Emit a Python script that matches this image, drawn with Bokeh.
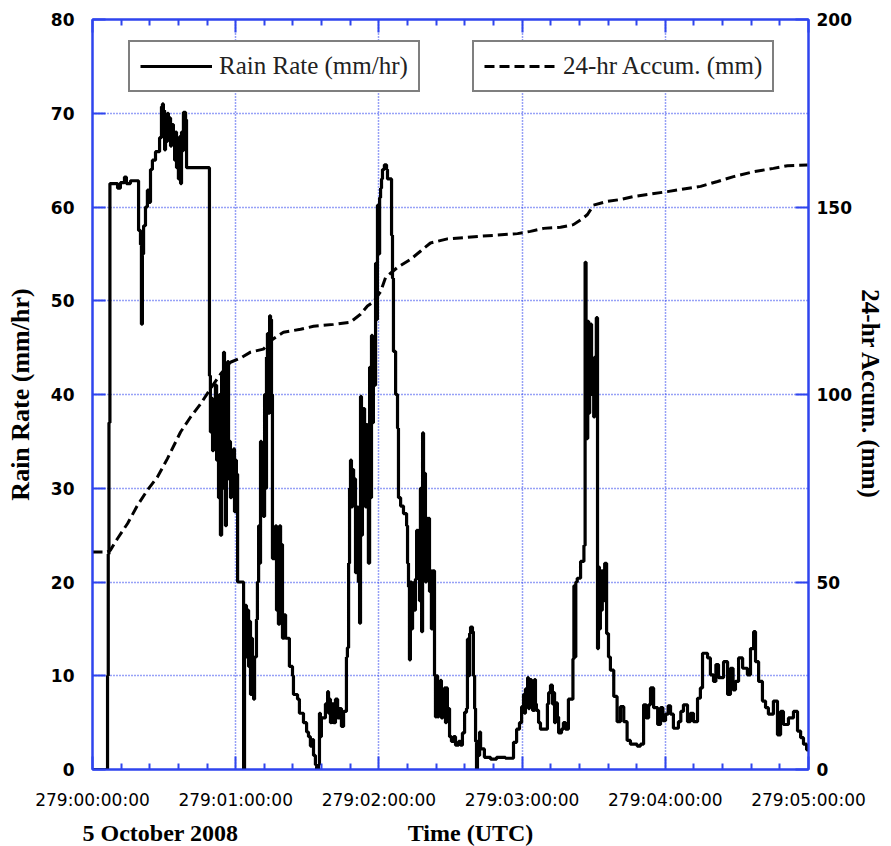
from bokeh.plotting import figure
from bokeh.layouts import column
from bokeh.models import Range1d, LinearAxis, FixedTicker, Legend, LegendItem, Label
from bokeh.embed import file_html
from bokeh.resources import INLINE

# ---- data: (minutes since 279:00:00:00, rain rate mm/hr), step samples ----
rain_hour0 = [(0, 0), (6.3, 10), (6.6, 23), (6.9, 37), (7.3, 62.5), (10.5, 62.0), (11.7, 62.6),
              (13.4, 63.2), (14.2, 62.5), (15.9, 62.8), (19.3, 57.5), (20.1, 56), (20.5, 47.5),
              (20.9, 55), (21.4, 58), (22.2, 60), (23.0, 61.8), (23.5, 60.5), (24.3, 64), (25.1, 65),
              (26.4, 65.9), (28.1, 67.4), (28.9, 70.7), (29.3, 71), (29.7, 70.3), (30.2, 66.1),
              (30.6, 69), (31.0, 67), (31.4, 70), (31.8, 68), (32.3, 69.5), (32.7, 66.5), (33.1, 68.2),
              (33.5, 68.8), (33.9, 67.5), (34.4, 65), (34.8, 68), (35.2, 64.2), (35.6, 67), (36.0, 63),
              (36.5, 67.5), (36.9, 62.5), (37.3, 68), (37.7, 66), (38.1, 70.1), (39.0, 69.3),
              (39.4, 64.2), (49.0, 42), (49.4, 36), (49.9, 39.6), (50.3, 34), (50.7, 38.5), (51.1, 35),
              (51.5, 41), (52.0, 33), (52.4, 37), (52.8, 29), (53.2, 40), (53.6, 25), (54.1, 42),
              (54.5, 30), (54.9, 44.5), (55.3, 33), (55.7, 26), (56.1, 36), (56.6, 43.5), (57.0, 31),
              (57.4, 35), (57.8, 29), (58.2, 34), (58.7, 31.5), (59.1, 34.2), (59.5, 27.5), (59.9, 33)]
rain_hour1 = [(60.3, 31.5), (60.8, 20), (63.3, 0), (63.7, 17.5), (64.5, 12), (64.9, 17), (65.4, 11),
              (65.8, 15.8), (66.2, 8), (66.6, 14), (67.0, 10), (67.5, 7.5), (67.9, 12), (68.7, 16),
              (69.1, 20), (69.6, 26), (70.0, 22), (70.4, 35), (70.8, 28), (71.2, 33), (71.6, 27),
              (72.1, 40), (72.5, 30), (72.9, 44), (73.3, 46.5), (73.7, 38), (74.2, 48.4), (74.6, 48),
              (75.0, 40), (75.4, 22.5), (76.7, 26), (77.1, 17), (77.5, 25), (77.9, 15.5), (78.4, 26),
              (78.8, 20), (79.2, 24), (79.6, 14), (80.4, 16.5), (80.9, 14), (82.5, 11), (83.8, 10),
              (84.2, 8), (85.9, 7.5), (86.7, 6), (88.4, 5), (89.7, 4), (90.5, 3.5), (91.3, 2.5),
              (92.2, 3.2), (92.6, 1.5), (93.4, 0.5), (93.9, 0), (94.7, 0.5), (95.1, 6), (95.5, 3.5),
              (95.9, 5.5), (97.6, 7), (98.5, 8.3), (98.9, 6), (99.3, 7.5), (99.7, 5), (100.1, 7),
              (101.0, 5), (101.8, 7.5), (102.7, 5.5), (103.5, 6.5), (104.3, 4.6), (105.2, 6.2),
              (106.4, 12), (106.8, 13), (107.3, 22), (107.7, 30), (108.1, 33), (108.5, 28), (108.9, 32),
              (109.4, 29), (109.8, 31), (110.2, 21), (110.6, 28), (111.4, 20), (111.9, 15.6),
              (112.3, 39.8), (112.7, 25), (113.1, 35), (113.5, 38.5), (114.0, 30), (114.4, 28),
              (114.8, 36.8), (115.2, 31), (115.6, 22), (116.1, 42.9), (116.5, 29), (116.9, 46.3),
              (117.3, 37), (117.7, 46), (118.2, 41), (118.6, 54), (119.0, 48), (119.4, 60.2), (119.8, 55)]
rain_hour2 = [(120.3, 61), (120.7, 62), (121.1, 63), (121.5, 64), (122.3, 64.5), (123.2, 64),
              (123.6, 63), (125.3, 57), (125.7, 52.4), (126.1, 44.6), (127.0, 40), (127.8, 36.4),
              (128.2, 29), (129.1, 28.1), (130.3, 27.3), (131.6, 26), (132.0, 22), (132.4, 19.5),
              (132.8, 11.7), (133.2, 20), (133.7, 15), (134.1, 19.9), (134.5, 17), (135.3, 20.3),
              (135.8, 25.5), (136.2, 22), (136.6, 25.5), (137.0, 18), (137.4, 30), (137.9, 14.7),
              (138.3, 35.9), (138.7, 24), (139.1, 31.6), (139.5, 20), (139.9, 26.8), (140.4, 22),
              (140.8, 26.8), (141.2, 19), (141.6, 21.2), (142.0, 15), (142.5, 21.2), (143.3, 10),
              (143.7, 5.6), (144.1, 10), (144.6, 5.6), (145.0, 7), (145.8, 9.5), (146.2, 5.5),
              (146.7, 7.8), (147.5, 8.7), (147.9, 5), (148.3, 8.7), (148.7, 6.5), (149.6, 3.5),
              (150.4, 3), (151.3, 3.5), (152.1, 2.6), (153.4, 3), (154.2, 2.6), (155.0, 3.9),
              (155.9, 6.1), (156.7, 6.5), (157.1, 13.9), (157.5, 10), (158.0, 14.5), (158.4, 15.2),
              (159.2, 14.7), (159.6, 10), (160.1, 6.5), (160.5, 3), (160.9, 0), (161.3, 3), (161.7, 1.5),
              (162.2, 4), (162.6, 2.2), (164.2, 1.3), (166.8, 1.1), (169.3, 1.3), (173.0, 1.2),
              (176.4, 2.9), (177.7, 4.3), (178.9, 5), (179.8, 6.7)]
rain_hour3 = [(180.6, 8), (181.0, 6), (181.4, 8.6), (182.3, 9.8), (182.7, 6.5), (183.1, 9.6),
              (183.9, 7), (184.4, 6.3), (185.2, 9.6), (185.6, 7), (186.0, 6.3), (186.9, 5), (187.7, 4.3),
              (190.6, 7), (191.1, 8.2), (191.9, 9), (192.7, 7), (193.2, 8.2), (193.6, 5), (194.0, 7.1),
              (194.8, 5.6), (195.3, 3.9), (196.5, 4.3), (197.3, 5), (198.2, 4.3), (199.4, 7.5),
              (201.3, 11.8), (201.7, 19.6), (202.1, 12), (202.5, 20), (203.1, 20.4), (204.5, 22.2),
              (205.9, 23.9), (206.4, 54.1), (206.8, 45), (207.1, 35.3), (207.5, 47.8), (207.9, 38),
              (208.3, 44), (208.7, 47.5), (209.1, 40), (209.5, 42), (210.0, 37.6), (210.4, 44),
              (210.7, 40), (211.1, 48.2), (211.6, 12.9), (212.0, 21.6), (212.4, 15), (212.8, 21.2),
              (213.2, 17), (213.6, 21.2), (214.2, 18), (214.6, 22), (215.4, 14.5), (216.2, 12),
              (217.0, 10.6), (218.4, 7.8), (219.8, 5.1), (221.2, 6.7), (222.6, 5.1), (224.0, 3.1),
              (225.4, 2.7), (228.2, 2.5), (229.6, 2.7), (230.9, 6.9), (232.0, 5.5), (233.0, 6.9),
              (233.8, 8.7), (235.1, 6.6), (236.8, 4.8), (238.0, 6.6), (239.0, 5.2)]
rain_hour4 = [(240.1, 5.9), (241.2, 6.8), (242.2, 5.9), (243.4, 4.4), (245.5, 5.1), (246.5, 6.2),
              (247.6, 6.9), (249.3, 5.1), (250.5, 6.0), (251.8, 5.1), (253.5, 7.6), (254.7, 8.7),
              (255.6, 12.4), (257.7, 11.9), (258.9, 10.1), (260.2, 9.4), (261.2, 11.2), (262.3, 9.8),
              (264.4, 11.5), (266.1, 8), (267.3, 10.8), (268.4, 8.5), (269.4, 9.4), (270.7, 11.9),
              (272.4, 10.8), (274.4, 10.1), (275.7, 12.9), (277.0, 14.7), (277.8, 11.5), (279.1, 9.4),
              (280.7, 7.3), (282.0, 6.6), (283.2, 5.9), (285.3, 7.3), (287.0, 3.7), (288.3, 6.2),
              (289.5, 4.8), (291.6, 5.5), (293.7, 6.2), (295.4, 4.1), (296.7, 3.4), (297.9, 2.7),
              (299.2, 2.1), (300.0, 2.1)]

# ---- 24-hr accumulation (mm) ----
accum_minutes = [0, 6.3, 7.5, 10.5, 14.7, 18.9, 23.0, 27.2, 31.4, 36.9, 41.1, 45.3, 49.4, 53.6, 57.8,
                 62.0, 66.2, 71.6, 75.4, 80.0, 87.2, 92.6, 101.0, 108.1, 112.3, 115.2, 117.7, 120.7,
                 122.8, 127.8, 133.2, 137.4, 141.6, 148.7, 155.4, 162.6, 169.7, 178.1, 183.5, 189.0,
                 196.1, 201.5, 205.7, 207.4, 209.9, 215.8, 221.2, 226.7, 240.9, 254.8, 261.9, 268.6,
                 277.0, 285.3, 291.2, 299.6]
accum_mm = [58.0, 58.0, 58.5, 61.6, 65.6, 70.5, 74.5, 78, 82.9, 90, 94, 97.5, 101.5, 105.4, 108.6,
            109.7, 111.3, 112.1, 114.7, 116.6, 117.4, 118.2, 118.7, 119.3, 121.4, 123.6, 124.7, 127.4,
            131.2, 133.9, 136, 138.2, 140.4, 141.5, 141.8, 142.2, 142.5, 142.9, 143.5, 144.3,
            144.6, 145.3, 147.1, 148, 150.5, 151.5, 152, 152.8, 154.1, 155.5, 156.8, 158.1,
            159.4, 160.3, 161, 161.2]

x_ticks = [0, 60, 120, 180, 240, 300]
x_tick_labels = ["279:00:00:00", "279:01:00:00", "279:02:00:00", "279:03:00:00",
                 "279:04:00:00", "279:05:00:00"]
x_minor = [12, 24, 36, 48, 72, 84, 96, 108, 132, 144, 156, 168, 192, 204, 216, 228, 252, 264, 276, 288]
rate_ticks = [0, 10, 20, 30, 40, 50, 60, 70, 80]
accum_ticks = [0, 50, 100, 150, 200]
date_text = "5 October 2008"
time_title = "Time (UTC)"

rain = rain_hour0 + rain_hour1 + rain_hour2 + rain_hour3 + rain_hour4
rain_t = [t for t, _ in rain]
rain_v = [v for _, v in rain]

BLUE = "#2f45ee"

p = figure(width=891, height=812, output_backend="svg", toolbar_location=None,
           x_range=Range1d(0, 300), y_range=Range1d(0, 80),
           min_border_left=92, min_border_right=83, min_border_top=19, min_border_bottom=40,
           background_fill_color="white", border_fill_color="white")
p.outline_line_color = BLUE
p.outline_line_width = 2
p.extra_y_ranges = {"acc": Range1d(0, 200)}


def style_axis(ax):
    ax.axis_line_color = BLUE
    ax.axis_line_width = 2
    ax.major_tick_line_color = BLUE
    ax.major_tick_line_width = 2
    ax.minor_tick_line_color = BLUE
    ax.minor_tick_line_width = 2
    ax.major_tick_in = 13
    ax.major_tick_out = 0
    ax.minor_tick_in = 6
    ax.minor_tick_out = 0


xa = p.xaxis[0]
xa.ticker = FixedTicker(ticks=x_ticks, minor_ticks=x_minor)
xa.major_label_overrides = {t: lab for t, lab in zip(x_ticks, x_tick_labels)}
xa.major_label_text_font = "DejaVu Sans"
xa.major_label_text_font_size = "17px"
xa.major_label_text_color = "black"
xa.major_label_standoff = 20
style_axis(xa)

ya = p.yaxis[0]
ya.ticker = FixedTicker(ticks=rate_ticks, minor_ticks=[])
ya.major_label_text_font = "DejaVu Sans"
ya.major_label_text_font_style = "bold"
ya.major_label_text_font_size = "17px"
ya.major_label_text_color = "black"
ya.major_label_standoff = 18
ya.axis_label = "Rain Rate (mm/hr)"
ya.axis_label_text_font = "Liberation Serif"
ya.axis_label_text_font_style = "bold"
ya.axis_label_text_font_size = "26px"
ya.axis_label_text_color = "black"
ya.axis_label_standoff = 13
style_axis(ya)

top = LinearAxis(ticker=FixedTicker(ticks=x_ticks, minor_ticks=x_minor),
                 major_label_text_font_size="0px", major_label_text_color=None,
                 major_label_standoff=0)
style_axis(top)
p.add_layout(top, "above")

right = LinearAxis(y_range_name="acc", ticker=FixedTicker(ticks=accum_ticks, minor_ticks=[]),
                   axis_label="24-hr Accum. (mm)")
right.major_label_text_font = "DejaVu Sans"
right.major_label_text_font_style = "bold"
right.major_label_text_font_size = "17px"
right.major_label_text_color = "black"
right.major_label_standoff = 8
right.axis_label_text_font = "Liberation Serif"
right.axis_label_text_font_style = "bold"
right.axis_label_text_font_size = "25px"
right.axis_label_text_color = "black"
right.axis_label_standoff = 2
style_axis(right)
p.add_layout(right, "right")

p.xgrid[0].ticker = FixedTicker(ticks=x_ticks[1:-1], minor_ticks=[])
p.ygrid[0].ticker = FixedTicker(ticks=rate_ticks[1:-1], minor_ticks=[])
for g in (p.xgrid[0], p.ygrid[0]):
    g.grid_line_color = BLUE
    g.grid_line_dash = "1 2"
    g.grid_line_width = 1.5

r_acc = p.line(accum_minutes, accum_mm, y_range_name="acc", line_color="black",
               line_width=3, line_dash="10 5")
r_rain = p.step(rain_t, rain_v, mode="after", line_color="black", line_width=3.2)


def make_legend(label, rend, loc):
    return Legend(items=[LegendItem(label=label, renderers=[rend])], location=loc,
                  orientation="vertical", border_line_color="black", border_line_width=2,
                  background_fill_color="white", background_fill_alpha=1.0,
                  padding=10, spacing=0, margin=0,
                  label_text_font="Liberation Serif", label_text_font_size="25px",
                  label_text_color="#222222", glyph_width=72, glyph_height=26,
                  label_height=26, label_standoff=7)


p.add_layout(make_legend("Rain Rate (mm/hr)", r_rain, (36, 677)))
p.add_layout(make_legend("24-hr Accum. (mm)", r_acc, (380, 677)))

# ---- strip below the chart: full-width frame on the same minute scale ----
MIN_PER_PX = 300 / 716.0
q = figure(width=891, height=34, output_backend="svg", toolbar_location=None,
           x_range=Range1d(-92 * MIN_PER_PX, (891 - 92) * MIN_PER_PX), y_range=Range1d(0, 34),
           min_border=0, x_axis_type=None, y_axis_type=None,
           background_fill_color="white", border_fill_color="white")
if "frame_align" in q.properties():
    q.frame_align = False
q.outline_line_color = None
q.grid.visible = False
q.add_layout(Label(x=-4.2, y=14, text=date_text, text_font="Liberation Serif",
                   text_font_style="bold", text_font_size="24px", text_baseline="middle",
                   text_align="left", text_color="black"))
q.add_layout(Label(x=158.4, y=14, text=time_title, text_font="Liberation Serif",
                   text_font_style="bold", text_font_size="24px", text_baseline="middle",
                   text_align="center", text_color="black"))

layout = column(p, q, spacing=0)
open("out.html", "w").write(file_html(layout, INLINE))
